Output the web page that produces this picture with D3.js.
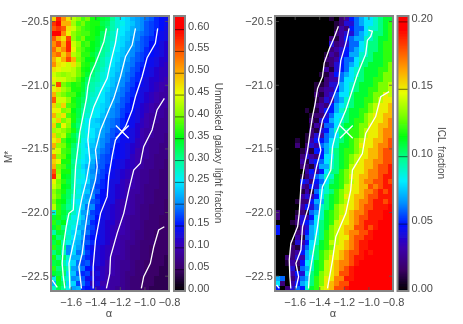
<!DOCTYPE html>
<html>

<head>
    <meta http-equiv="Content-Type" content="text/html; charset=utf-8">
    <title>Unmasked galaxy light and ICL fraction</title>
    <style type="text/css">
        html,
        body {
            margin: 0;
            background: #fff;
        }

        text {
            font-family: "Liberation Sans", sans-serif;
            font-size: 11px;
            fill: #4a4a4a;
        }

        .bar-title {
            font-size: 10px;
        }
    </style>
</head>

<body>
    <script src="https://d3js.org/d3.v7.min.js"></script>
    <script>
        // grid: 24 columns of alpha, 54 rows of M*, values in percent
        var alphaStart = -1.76, alphaEnd = -0.8, magStart = -20.46, magEnd = -22.62;
        var cellAlpha = 0.04, cellMag = 0.04;

        var alphaTicks = [-1.6, -1.4, -1.2, -1.0, -0.8];
        var magTicks = [-20.5, -21.0, -21.5, -22.0, -22.5];
        var leftBarTicks = [0, 0.05, 0.10, 0.15, 0.20, 0.25, 0.30, 0.35, 0.40, 0.45, 0.50, 0.55, 0.60];
        var rightBarTicks = [0, 0.05, 0.10, 0.15, 0.20];

        var colorStops = [0, 0.08, 0.16, 0.24, 0.32, 0.40, 0.48, 0.56, 0.64, 0.72, 0.80, 0.88, 0.95, 1];
        var colorValues = ["#000000", "#3b0068", "#3a00b0", "#0010ff", "#0090ff", "#00eeff", "#00ff90", "#00ff10",
            "#80ff00", "#e8ff00", "#ffa800", "#ff5000", "#ff0000", "#ff0000"];

        var unmasked = [
            [48,58,52,47,43,41,38,40,36,35,34,33,30,27,25,24,22,21,20,19,18,16,15,14],
            [57,62,50,50,42,38,40,37,36,36,33,32,29,27,26,24,23,21,20,18,17,16,15,14],
            [55,57,55,47,44,40,38,37,36,35,34,31,29,27,25,24,22,21,20,18,17,16,15,13],
            [60,60,52,46,41,39,38,38,36,35,32,30,28,26,25,23,22,20,19,18,17,15,14,13],
            [55,50,47,56,41,38,40,36,36,34,32,29,28,26,24,23,21,20,18,17,16,15,14,13],
            [52,56,50,58,44,41,37,38,35,34,31,29,27,25,24,22,21,19,18,17,15,15,13,12],
            [54,49,52,58,46,40,38,36,35,33,30,29,26,25,23,22,20,19,18,16,15,14,13,12],
            [52,54,48,53,43,41,37,37,34,32,30,28,26,24,23,21,20,18,17,16,15,14,13,12],
            [50,46,50,56,50,40,38,35,35,31,29,27,25,24,22,21,19,18,17,15,14,13,12,12],
            [52,47,46,44,47,42,37,36,33,30,29,27,25,23,22,20,19,17,16,15,14,13,12,11],
            [47,46,44,44,43,40,36,35,32,30,28,26,24,23,21,20,18,17,15,14,13,12,11,11],
            [44,42,41,42,43,40,37,34,31,29,27,26,24,22,21,19,18,16,15,14,13,12,11,11],
            [46,44,44,42,41,38,35,32,30,29,27,25,23,22,20,19,17,16,14,13,12,12,11,10],
            [44,56,40,38,36,37,34,31,29,28,26,25,23,21,20,18,17,15,14,13,12,11,10,10],
            [46,47,42,40,36,36,34,30,29,27,26,24,22,21,19,18,16,15,13,13,12,11,10,9],
            [50,42,40,38,38,35,33,29,28,27,25,23,22,20,19,17,16,14,13,12,11,10,9,9],
            [55,44,44,41,36,34,32,29,27,26,25,23,21,20,18,17,15,14,13,12,11,10,9,9],
            [48,42,48,38,37,34,31,28,27,26,24,23,21,19,18,16,15,14,12,11,10,9,9,9],
            [46,46,40,41,35,33,30,28,26,25,24,22,20,19,17,16,15,13,12,11,10,9,9,8],
            [50,43,47,38,36,33,29,27,26,25,23,21,20,19,17,15,14,13,12,10,9,9,9,8],
            [44,48,40,42,36,32,28,25,24,23,22,20,19,18,16,15,14,13,11,10,9,9,8,8],
            [48,38,46,41,34,31,27,26,24,24,22,20,19,18,16,15,14,12,11,10,9,8,8,8],
            [42,43,41,39,36,32,27,25,25,23,21,20,18,17,15,14,13,12,10,9,9,8,8,8],
            [48,41,43,37,33,30,27,26,25,23,21,19,18,16,15,14,13,12,10,9,9,8,8,7],
            [46,48,38,35,34,31,26,25,24,22,20,19,17,16,14,14,13,11,10,9,8,8,8,7],
            [50,41,40,36,32,28,26,24,23,22,20,18,17,15,14,13,12,11,10,9,8,8,7,7],
            [46,44,38,37,31,29,26,25,22,21,19,18,16,15,14,13,12,10,9,9,8,8,7,7],
            [52,41,39,35,31,28,26,24,23,20,18,17,16,15,14,13,11,10,9,9,8,7,7,7],
            [48,46,36,36,30,27,25,24,22,19,18,17,15,14,13,12,11,10,9,8,8,7,7,6],
            [50,40,38,34,31,28,24,22,21,18,18,16,15,14,13,12,11,10,9,8,8,7,7,6],
            [55,41,36,36,30,27,25,23,20,19,17,16,14,13,12,11,10,9,8,8,7,7,6,6],
            [58,43,35,34,30,27,26,23,21,18,17,15,14,13,12,11,10,9,8,8,7,7,6,6],
            [46,40,37,33,30,26,25,24,20,18,16,15,13,13,11,10,10,9,8,8,7,7,6,6],
            [44,41,35,34,29,27,24,22,20,17,16,15,13,12,11,10,10,9,8,7,7,7,6,6],
            [41,38,36,32,30,26,24,23,19,18,15,14,13,12,11,10,9,9,8,7,7,6,6,6],
            [42,39,34,32,28,27,23,21,20,16,15,14,13,12,11,10,9,8,8,7,7,6,6,6],
            [40,36,35,31,27,25,22,22,18,17,15,13,13,11,10,10,9,8,8,7,7,6,6,5],
            [43,37,33,30,28,26,23,19,20,16,14,13,12,11,10,10,9,8,7,7,6,6,6,5],
            [27,37,34,32,28,25,21,21,17,16,14,13,12,11,10,10,9,8,7,7,6,6,6,5],
            [34,36,33,30,26,26,23,19,18,15,14,13,12,11,10,9,8,8,7,7,6,6,5,5],
            [37,33,35,27,27,24,21,20,16,15,13,12,12,10,10,9,8,8,7,6,6,6,5,5],
            [34,37,31,28,26,22,22,18,17,14,13,12,11,10,10,9,8,8,7,6,6,6,5,5],
            [29,34,33,27,24,24,20,19,16,14,13,12,11,10,10,9,8,7,7,6,6,5,5,5],
            [35,31,32,28,25,23,21,17,15,15,13,12,11,10,9,9,8,7,7,6,6,5,5,5],
            [33,36,29,26,23,22,19,18,16,14,13,12,10,10,9,8,8,7,6,6,6,5,5,5],
            [37,33,31,20,24,21,20,16,14,13,12,11,10,10,9,8,7,7,6,6,5,5,5,5],
            [31,34,28,20,24,19,21,17,15,13,12,11,10,10,9,8,7,7,6,6,5,5,5,5],
            [36,30,32,27,22,22,18,16,14,13,12,11,10,9,9,8,7,7,6,6,5,5,5,4],
            [33,34,29,25,24,19,17,18,13,13,12,10,10,9,8,8,7,6,6,5,5,5,5,4],
            [37,31,31,28,21,20,19,15,15,12,11,10,10,9,8,8,7,6,6,5,5,5,4,4],
            [34,33,32,24,23,18,16,17,12,13,11,10,10,9,8,7,7,6,6,5,5,5,4,4],
            [26,36,29,27,20,21,18,14,14,12,11,10,9,9,8,7,6,6,5,5,5,4,4,4],
            [22,34,32,24,24,17,19,16,11,13,10,10,9,9,8,7,6,6,5,5,5,4,4,4],
            [28,33,30,26,21,22,16,15,14,11,11,10,9,8,8,7,6,6,5,5,4,4,4,4]
        ];

        var iclFraction = [
            [0,0,0,0,0,0,0,0,0,0,0,1,0,2,3,5,6,7,8,8,9,10,11,11],
            [0,0,0,0,0,0,0,0,0,0,0,0,1,2,4,4,6,7,8,8,9,10,11,12],
            [0,0,0,0,0,0,0,0,0,0,0,0,1,3,2,5,6,6,8,9,9,10,11,12],
            [0,0,0,0,0,0,0,0,0,0,0,0,2,3,4,4,6,7,8,9,10,10,11,12],
            [0,0,0,0,0,0,0,0,0,0,0,2,1,3,5,6,7,7,9,9,10,11,11,12],
            [0,0,0,0,0,0,0,0,0,0,0,4,2,3,4,6,6,8,9,10,10,11,12,12],
            [0,0,0,0,0,0,0,0,0,0,0,2,3,4,5,6,7,8,9,10,10,11,12,12],
            [0,0,0,0,0,0,0,0,0,0,1,3,2,4,5,7,7,9,9,10,11,11,12,12],
            [0,0,0,0,0,0,0,0,0,0,2,2,3,5,6,6,8,9,10,10,11,11,12,12],
            [0,0,0,0,0,0,0,0,0,0,1,2,4,5,6,7,8,10,10,11,11,11,12,13],
            [0,0,0,0,0,0,0,0,0,0,3,1,4,5,6,8,9,10,11,11,11,12,12,13],
            [0,0,0,0,0,0,0,0,0,1,1,3,5,6,7,8,9,10,11,11,11,12,13,13],
            [0,0,0,0,0,0,0,0,0,0,2,3,3,6,8,8,10,10,11,11,12,12,13,13],
            [0,0,0,0,0,0,0,0,1,1,2,4,4,7,8,9,10,11,11,11,12,13,13,14],
            [0,0,0,0,0,0,0,0,1,2,3,3,5,7,8,9,10,11,11,12,12,13,13,14],
            [0,0,0,0,0,0,0,0,2,1,3,4,6,8,8,10,11,11,11,12,13,13,15,14],
            [0,0,0,0,0,0,0,0,1,2,4,3,6,7,9,10,11,11,12,12,13,14,15,15],
            [0,0,0,0,0,0,0,0,2,3,2,5,7,8,9,10,11,11,12,13,14,15,15,16],
            [0,0,0,0,0,0,1,0,1,3,5,5,7,9,10,11,11,12,12,13,14,15,15,16],
            [0,0,0,0,0,0,0,1,2,2,4,6,8,8,10,11,11,12,13,14,15,15,16,16],
            [0,0,0,0,0,0,0,2,1,4,5,7,8,9,10,11,12,12,13,14,15,15,16,17],
            [0,0,0,0,0,0,0,1,3,2,6,6,8,10,11,11,12,13,13,15,15,16,16,17],
            [0,0,0,0,0,0,0,2,1,4,5,7,9,10,10,12,12,13,14,15,15,16,17,17],
            [0,0,0,0,0,0,1,2,4,3,6,7,8,10,11,12,12,13,14,15,15,16,17,17],
            [0,0,0,0,1,0,1,3,5,5,6,8,9,10,11,12,13,14,15,15,16,16,17,18],
            [0,0,0,0,2,0,2,4,3,6,7,8,9,11,11,12,13,15,15,15,16,17,17,18],
            [0,0,0,0,0,1,3,1,5,5,7,9,10,11,12,12,13,14,15,16,16,17,18,18],
            [0,0,0,0,0,2,4,3,2,5,8,8,10,11,12,13,14,15,15,16,16,17,18,18],
            [0,0,0,0,0,3,1,4,5,6,8,9,10,11,12,13,14,15,16,16,17,17,18,18],
            [0,0,0,0,0,2,2,1,4,7,7,9,10,11,12,14,15,15,16,16,17,18,18,19],
            [0,0,0,0,0,0,3,5,3,5,8,10,10,12,13,14,15,15,16,17,17,18,18,19],
            [0,0,0,0,0,1,2,4,6,7,9,9,11,12,13,15,15,16,16,17,17,18,19,19],
            [0,0,0,0,0,5,4,2,5,6,8,10,11,12,13,14,15,16,17,17,18,18,19,18],
            [0,0,0,0,0,3,2,5,4,7,9,11,11,12,14,15,15,16,16,18,17,18,19,19],
            [0,0,0,0,0,1,3,1,6,8,9,10,12,13,14,15,15,16,17,17,18,19,18,19],
            [0,0,0,0,0,3,4,3,5,8,10,11,12,13,15,15,16,16,17,18,18,19,19,19],
            [0,0,0,0,1,2,2,5,7,7,10,11,12,13,14,15,16,17,17,18,19,19,18,19],
            [0,0,0,0,0,3,5,4,6,9,10,11,13,14,15,15,16,17,18,18,19,19,19,20],
            [2,0,0,0,1,2,1,6,7,9,11,12,13,14,15,16,17,17,18,19,19,19,20,20],
            [2,0,0,0,2,4,3,5,8,9,11,12,13,15,15,16,17,18,18,19,19,19,20,20],
            [0,0,0,1,2,4,5,6,8,10,11,12,14,15,15,16,17,18,19,19,19,20,20,20],
            [5,0,0,0,1,3,4,7,8,10,11,13,14,15,16,16,18,18,19,18,19,20,20,20],
            [5,0,0,0,2,3,5,7,8,10,12,13,14,15,16,17,17,18,18,19,20,20,20,20],
            [0,0,0,0,3,1,6,7,9,10,12,13,14,15,15,17,18,18,19,19,20,20,20,20],
            [0,0,0,1,4,3,5,8,9,11,12,14,14,15,16,17,18,19,19,20,20,20,20,20],
            [0,0,0,2,1,4,6,8,10,11,12,13,15,15,16,17,18,19,19,20,20,20,20,20],
            [0,0,0,2,3,5,7,9,10,12,13,14,15,16,17,18,18,19,20,19,20,20,20,20],
            [0,0,2,2,4,3,7,8,10,12,13,15,15,16,17,18,19,19,20,20,20,20,20,20],
            [0,0,1,3,2,5,8,9,11,12,14,15,16,17,17,18,19,20,20,20,20,20,20,20],
            [0,0,0,4,1,6,7,9,11,12,14,15,16,17,18,19,20,20,20,20,20,20,20,20],
            [0,0,0,3,5,4,8,10,11,13,14,15,16,18,18,19,20,20,20,20,20,20,20,20],
            [7,6,0,2,4,6,7,10,12,13,15,15,17,17,19,19,20,20,20,20,20,20,20,20],
            [8,2,0,3,5,7,8,10,12,13,15,16,17,18,18,20,20,20,20,20,20,20,20,20],
            [5,0,2,4,6,5,9,11,12,14,15,16,18,18,19,20,20,20,20,20,20,20,20,20]
        ];

        // contour lines as [alpha, M*]
        var unmaskedContours = [
            [[-1.309,-20.557],[-1.330,-20.662],[-1.371,-20.766],[-1.403,-20.845],[-1.439,-20.923],[-1.460,-21.015],[-1.471,-21.107],[-1.498,-21.238],[-1.525,-21.369],[-1.541,-21.5],[-1.560,-21.644],[-1.568,-21.80],[-1.579,-21.984],[-1.614,-22.01],[-1.636,-22.115],[-1.660,-22.272],[-1.669,-22.403],[-1.660,-22.508],[-1.647,-22.6]],
            [[-1.217,-20.557],[-1.236,-20.675],[-1.276,-20.83],[-1.303,-20.95],[-1.357,-21.054],[-1.411,-21.172],[-1.444,-21.277],[-1.460,-21.434],[-1.444,-21.591],[-1.471,-21.748],[-1.506,-21.879],[-1.533,-22.01],[-1.560,-22.167],[-1.614,-22.403],[-1.606,-22.6]],
            [[-1.073,-20.557],[-1.100,-20.688],[-1.154,-20.78],[-1.195,-20.937],[-1.249,-21.107],[-1.290,-21.198],[-1.357,-21.355],[-1.398,-21.513],[-1.384,-21.644],[-1.398,-21.748],[-1.452,-21.932],[-1.479,-22.115],[-1.506,-22.324],[-1.533,-22.429],[-1.512,-22.6]],
            [[-0.892,-20.557],[-0.911,-20.675],[-0.979,-20.79],[-1.019,-20.937],[-1.073,-21.094],[-1.100,-21.198],[-1.154,-21.33],[-1.236,-21.434],[-1.263,-21.565],[-1.290,-21.722],[-1.303,-21.879],[-1.357,-22.01],[-1.398,-22.22],[-1.417,-22.429],[-1.417,-22.6]],
            [[-0.838,-21.107],[-0.897,-21.198],[-0.938,-21.355],[-1.006,-21.486],[-1.033,-21.617],[-1.087,-21.67],[-1.127,-21.827],[-1.168,-22.01],[-1.222,-22.167],[-1.276,-22.351],[-1.282,-22.481],[-1.309,-22.6]],
            [[-0.838,-22.115],[-0.884,-22.141],[-0.924,-22.272],[-0.952,-22.403],[-1.006,-22.508],[-1.025,-22.6]],
            [[-1.750,-22.534],[-1.709,-22.592]]
        ];

        var iclContours = [
            [[-1.244,-20.54],[-1.279,-20.63],[-1.319,-20.72],[-1.360,-20.83],[-1.374,-20.937],[-1.414,-21.03],[-1.433,-21.146],[-1.455,-21.25],[-1.476,-21.382],[-1.495,-21.513],[-1.522,-21.644],[-1.549,-21.80],[-1.563,-22.01],[-1.576,-22.115],[-1.631,-22.246],[-1.644,-22.377],[-1.639,-22.508],[-1.631,-22.6]],
            [[-1.157,-20.557],[-1.184,-20.675],[-1.225,-20.81],[-1.244,-20.99],[-1.306,-21.146],[-1.374,-21.277],[-1.406,-21.434],[-1.387,-21.513],[-1.422,-21.644],[-1.455,-21.80],[-1.487,-21.958],[-1.536,-22.115],[-1.549,-22.298],[-1.590,-22.403],[-1.568,-22.508],[-1.590,-22.6]],
            [[-1.000,-20.57],[-0.968,-20.58],[-0.981,-20.62],[-1.008,-20.65],[-1.022,-20.76],[-1.090,-20.92],[-1.144,-21.08],[-1.184,-21.198],[-1.265,-21.382],[-1.292,-21.486],[-1.306,-21.67],[-1.374,-21.80],[-1.387,-21.905],[-1.414,-22.115],[-1.441,-22.272],[-1.482,-22.508],[-1.487,-22.6]],
            [[-0.832,-21.054],[-0.900,-21.094],[-0.941,-21.25],[-1.022,-21.382],[-1.049,-21.54],[-1.130,-21.67],[-1.144,-21.827],[-1.184,-22.01],[-1.265,-22.193],[-1.292,-22.377],[-1.333,-22.6]],
            [[-1.747,-22.573],[-1.725,-22.6]]
        ];

        var marker = [[-1.18, -21.37]];

        var width = 463, height = 324;
        var frameColor = "#858585";

        var svg = d3.select("body").append("svg")
            .attr("width", width)
            .attr("height", height)
            .style("display", "block");

        // the reference is a soft upscaled bitmap
        svg.append("defs").append("filter")
            .attr("id", "soft")
            .attr("filterUnits", "userSpaceOnUse")
            .attr("x", 0).attr("y", 0)
            .attr("width", width).attr("height", height)
            .append("feGaussianBlur")
            .attr("stdDeviation", 0.45);

        var root = svg.append("g").attr("filter", "url(#soft)");

        var color = d3.scaleLinear().domain(colorStops).range(colorValues).clamp(true);
        var fmt = d3.format(".1f");
        var fmtBar = d3.format(".2f");

        function drawPanel(cfg) {
            var x = d3.scaleLinear().domain([alphaStart, alphaEnd]).range([cfg.left, cfg.right]);
            var y = d3.scaleLinear().domain([magStart, magEnd]).range([16, 291]);
            var g = root.append("g");

            cfg.values.forEach(function (row, r) {
                g.append("g").attr("shape-rendering", "crispEdges").selectAll("rect")
                    .data(row)
                    .enter().append("rect")
                    .attr("x", function (d, c) { return x(alphaStart + c * cellAlpha); })
                    .attr("y", y(magStart - r * cellMag))
                    .attr("width", x(alphaStart + cellAlpha) - x(alphaStart) + 0.5)
                    .attr("height", y(magStart - cellMag) - y(magStart) + 0.5)
                    .attr("fill", function (d) { return color(d / 100 / cfg.barMax); });
            });

            var line = d3.line()
                .x(function (d) { return x(d[0]); })
                .y(function (d) { return y(d[1]); });

            g.append("g").selectAll("path")
                .data(cfg.contours)
                .enter().append("path")
                .attr("d", line)
                .attr("fill", "none")
                .attr("stroke", "#fff")
                .attr("stroke-width", 1.3);

            g.append("g").selectAll("path")
                .data(marker)
                .enter().append("path")
                .attr("transform", function (d) { return "translate(" + x(d[0]) + "," + y(d[1]) + ")"; })
                .attr("d", d3.symbol(d3.symbolX, 110))
                .attr("fill", "none")
                .attr("stroke", "#fff")
                .attr("stroke-width", 1.3);

            // ticks on all four sides, pointing in
            function styleAxis(a, showLabels) {
                a.attr("font-family", null).attr("font-size", null);
                a.select(".domain").remove();
                a.selectAll("line").attr("stroke", "#555").attr("stroke-width", 0.8);
                if (!showLabels) a.selectAll("text").remove();
            }

            g.append("g").attr("transform", "translate(0,291)")
                .call(d3.axisBottom(x).tickValues(alphaTicks).tickSizeInner(-4).tickSizeOuter(0).tickPadding(7).tickFormat(fmt))
                .call(styleAxis, true);
            g.append("g").attr("transform", "translate(0,16)")
                .call(d3.axisTop(x).tickValues(alphaTicks).tickSizeInner(-4).tickSizeOuter(0))
                .call(styleAxis, false);
            g.append("g").attr("transform", "translate(" + cfg.left + ",0)")
                .call(d3.axisLeft(y).tickValues(magTicks).tickSizeInner(-4).tickSizeOuter(0).tickPadding(2).tickFormat(fmt))
                .call(styleAxis, true);
            g.append("g").attr("transform", "translate(" + cfg.right + ",0)")
                .call(d3.axisRight(y).tickValues(magTicks).tickSizeInner(-4).tickSizeOuter(0))
                .call(styleAxis, false);

            g.append("rect")
                .attr("x", cfg.left).attr("y", 16)
                .attr("width", cfg.right - cfg.left).attr("height", 275)
                .attr("fill", "none")
                .attr("stroke", frameColor)
                .attr("stroke-width", 2);

            g.append("text")
                .attr("x", (cfg.left + cfg.right) / 2 - 1)
                .attr("y", 317)
                .attr("text-anchor", "middle")
                .text("\u03b1");

            // colour bar
            var bar = d3.scaleLinear().domain([0, cfg.barMax]).range([291, 16]);
            g.append("g").attr("shape-rendering", "crispEdges").selectAll("rect")
                .data(d3.range(0, 275))
                .enter().append("rect")
                .attr("x", cfg.barLeft)
                .attr("y", function (d) { return 290 - d; })
                .attr("width", cfg.barRight - cfg.barLeft)
                .attr("height", 1.3)
                .attr("fill", function (d) { return color(bar.invert(290.5 - d) / cfg.barMax); });

            var barAxis = g.append("g").attr("transform", "translate(" + cfg.barRight + ",0)")
                .call(d3.axisRight(bar).tickValues(cfg.barTicks)
                    .tickSizeInner(-(cfg.barRight - cfg.barLeft)).tickSizeOuter(0).tickPadding(3).tickFormat(fmtBar));
            barAxis.attr("font-family", null).attr("font-size", null);
            barAxis.select(".domain").remove();
            barAxis.selectAll("line").attr("stroke", "#000").attr("stroke-opacity", 0.55).attr("stroke-width", 1);
            barAxis.selectAll("text").attr("dy", "0");

            g.append("rect")
                .attr("x", cfg.barLeft).attr("y", 16)
                .attr("width", cfg.barRight - cfg.barLeft).attr("height", 275)
                .attr("fill", "none")
                .attr("stroke", frameColor)
                .attr("stroke-width", 2);

            g.append("text")
                .attr("class", "bar-title")
                .attr("transform", "translate(" + cfg.titleX + ",153) rotate(90)")
                .attr("text-anchor", "middle")
                .style("word-spacing", "1.5px")
                .text(cfg.title);
        }

        drawPanel({
            left: 51, right: 169, barLeft: 174, barRight: 185, barMax: 0.63, barTicks: leftBarTicks,
            values: unmasked, contours: unmaskedContours,
            title: "Unmasked galaxy light fraction", titleX: 215
        });

        drawPanel({
            left: 275, right: 393, barLeft: 397.5, barRight: 408.5, barMax: 0.204, barTicks: rightBarTicks,
            values: iclFraction, contours: iclContours,
            title: "ICL fraction", titleX: 438
        });

        root.append("text")
            .attr("class", "bar-title")
            .attr("transform", "translate(12,157) rotate(-90)")
            .attr("text-anchor", "middle")
            .text("M*");
    </script>
</body>

</html>
